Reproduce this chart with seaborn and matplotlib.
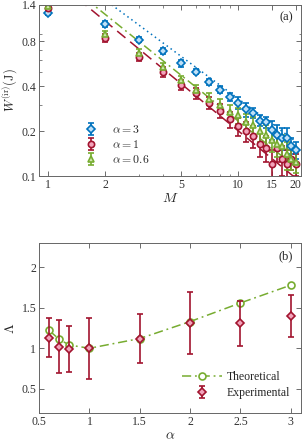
#!/usr/bin/env python3
# -*- coding: utf-8 -*-

import numpy as np
import pandas as pd
import matplotlib
matplotlib.use("Agg")
import matplotlib.pyplot as plt
import matplotlib.ticker as mticker
import seaborn as sns

# ---- panel (a) data ----
M = list(range(1, 21))
W_a3 = [1.23, 1.05, 0.82, 0.69, 0.57, 0.50, 0.43, 0.38, 0.34, 0.31,
        0.28, 0.265, 0.235, 0.23, 0.205, 0.19, 0.18, 0.18, 0.16, 0.15]
W_a1 = [1.33, 0.84, 0.63, 0.50, 0.41, 0.36, 0.31, 0.275, 0.24, 0.215,
        0.20, 0.185, 0.165, 0.155, 0.12, 0.155, 0.13, 0.12, 0.13, 0.12]
W_a06 = [1.37, 0.89, 0.67, 0.54, 0.44, 0.38, 0.33, 0.30, 0.27, 0.255,
         0.23, 0.22, 0.20, 0.19, 0.175, 0.165, 0.16, 0.14, 0.13, 0.125]
err_a3 = [0.03, 0.05, 0.03, 0.03, 0.03, 0.02, 0.02, 0.02, 0.02, 0.03,
          0.03, 0.02, 0.02, 0.02, 0.03, 0.03, 0.03, 0.03, 0.02, 0.02]
err_a1 = [0.03, 0.05, 0.04, 0.04, 0.03, 0.03, 0.03, 0.03, 0.03, 0.03,
          0.03, 0.03, 0.03, 0.03, 0.03, 0.03, 0.03, 0.03, 0.02, 0.02]
err_a06 = [0.03, 0.04, 0.04, 0.03, 0.03, 0.03, 0.03, 0.03, 0.03, 0.03,
           0.03, 0.03, 0.03, 0.03, 0.03, 0.03, 0.03, 0.03, 0.02, 0.02]

# fitted power-law lines (end points)
fit_M = [1, 20]
fit_a3 = [2.9, 0.171]
fit_a1 = [2.25, 0.097]
fit_a06 = [2.45, 0.115]

# ---- panel (b) data ----
alpha = [0.6, 0.7, 0.8, 1.0, 1.5, 2.0, 2.5, 3.0]
lam_theo = [1.22, 1.11, 1.04, 1.00, 1.12, 1.33, 1.56, 1.78]
lam_exp = [1.13, 1.02, 0.99, 1.00, 1.12, 1.31, 1.31, 1.40]
lam_err = [0.24, 0.33, 0.28, 0.38, 0.30, 0.38, 0.28, 0.26]

BLUE, RED, GREEN = "#0072BD", "#A2142F", "#77AC30"
BLUE_F, RED_F, GREEN_F = "#bfe0f7", "#f3a3bb", "#cfe6ad"

sns.set_style("ticks")
plt.rcParams["font.family"] = ["Liberation Serif", "DejaVu Serif"]
plt.rcParams["mathtext.fontset"] = "cm"
plt.rcParams["font.size"] = 8.5
plt.rcParams["axes.edgecolor"] = "#666666"
plt.rcParams["axes.linewidth"] = 0.7
plt.rcParams["xtick.color"] = "#555555"
plt.rcParams["ytick.color"] = "#555555"
plt.rcParams["xtick.labelcolor"] = "#333333"
plt.rcParams["ytick.labelcolor"] = "#333333"

fig = plt.figure(figsize=(3.03, 4.46), dpi=100)
ax1 = fig.add_axes([0.129, 0.605, 0.864, 0.384])
ax2 = fig.add_axes([0.129, 0.074, 0.864, 0.381])

# ---- panel (a) ----
fits = pd.DataFrame({"M": fit_M * 3,
                     "W": fit_a3 + fit_a1 + fit_a06,
                     "s": ["a3"] * 2 + ["a1"] * 2 + ["a06"] * 2})
sns.lineplot(data=fits[fits.s == "a3"], x="M", y="W", ax=ax1, color=BLUE,
             linestyle=(0, (1, 2.2)), linewidth=1.1)
sns.lineplot(data=fits[fits.s == "a1"], x="M", y="W", ax=ax1, color=RED,
             linestyle=(0, (7, 4)), linewidth=1.1)
sns.lineplot(data=fits[fits.s == "a06"], x="M", y="W", ax=ax1, color=GREEN,
             linestyle=(0, (6, 2.5, 1.2, 2.5)), linewidth=1.1)

h3 = ax1.errorbar(M, W_a3, yerr=err_a3, fmt="D", ms=4.0, mec=BLUE, mfc=BLUE_F,
                  mew=1.2, ecolor=BLUE, elinewidth=1.2, capsize=2, capthick=1.2)
h1 = ax1.errorbar(M, W_a1, yerr=err_a1, fmt="o", ms=4.5, mec=RED, mfc=RED_F,
                  mew=1.2, ecolor=RED, elinewidth=1.2, capsize=2, capthick=1.2)
h06 = ax1.errorbar(M, W_a06, yerr=err_a06, fmt="^", ms=4.8, mec=GREEN, mfc=GREEN_F,
                   mew=1.2, ecolor=GREEN, elinewidth=1.2, capsize=2, capthick=1.2)

ax1.set_xscale("log")
ax1.set_yscale("log")
ax1.set_xlim(0.897, 21.3)
ax1.set_ylim(0.1, 1.4)
ax1.set_xticks([1, 2, 5, 10, 15, 20])
ax1.set_xticklabels(["1", "2", "5", "10", "15", "20"])
ax1.set_yticks([0.1, 0.2, 0.4, 0.8, 1.4])
ax1.set_yticklabels(["0.1", "0.2", "0.4", "0.8", "1.4"])
ax1.xaxis.set_minor_locator(mticker.LogLocator(subs=np.arange(2, 10)))
ax1.yaxis.set_minor_locator(mticker.LogLocator(subs=np.arange(2, 10)))
ax1.xaxis.set_minor_formatter(mticker.NullFormatter())
ax1.yaxis.set_minor_formatter(mticker.NullFormatter())
ax1.set_xlabel("$M$", fontsize=10, labelpad=1)
ax1.set_ylabel(r"$W^{(\mathrm{ir})}(\mathrm{J})$", fontsize=9)
ax1.yaxis.set_label_coords(-0.072, 0.5)
ax1.text(0.97, 0.93, "(a)", transform=ax1.transAxes, ha="right", va="center",
         fontsize=9)
ax1.legend([h3, h1, h06], [r"$\alpha = 3$", r"$\alpha = 1$", r"$\alpha = 0.6$"],
           loc="center left", bbox_to_anchor=(0.13, 0.18), frameon=False,
           handlelength=1.2, handletextpad=1.2, labelspacing=0.25, fontsize=8.5)

# ---- panel (b) ----
theo = pd.DataFrame({"alpha": alpha, "lam": lam_theo})
sns.lineplot(data=theo, x="alpha", y="lam", ax=ax2, color=GREEN,
             linestyle=(0, (6, 2.5, 1.2, 2.5)), linewidth=1.1,
             marker="o", markersize=5, markerfacecolor="white",
             markeredgecolor=GREEN, markeredgewidth=1.2, label="Theoretical")
ax2.errorbar(alpha, lam_exp, yerr=lam_err, fmt="D", ms=4.0, mec=RED, mfc=RED_F,
             mew=1.2, ecolor=RED, elinewidth=1.2, capsize=2, capthick=1.2,
             label="Experimental")

ax2.set_xlim(0.5, 3.1)
ax2.set_ylim(0.2, 2.3)
ax2.set_xticks([0.5, 1, 1.5, 2, 2.5, 3])
ax2.set_xticklabels(["0.5", "1", "1.5", "2", "2.5", "3"])
ax2.set_yticks([0.5, 1, 1.5, 2])
ax2.set_yticklabels(["0.5", "1", "1.5", "2"])
ax2.set_xlabel(r"$\alpha$", fontsize=10, labelpad=1)
ax2.set_ylabel(r"$\Lambda$", fontsize=10)
ax2.yaxis.set_label_coords(-0.085, 0.5)
ax2.text(0.97, 0.92, "(b)", transform=ax2.transAxes, ha="right", va="center",
         fontsize=9)
ax2.legend(loc="lower right", bbox_to_anchor=(1.0, 0.02), frameon=False,
           handlelength=3.4, handletextpad=0.4, labelspacing=0.3, fontsize=8.5)

for ax in (ax1, ax2):
    ax.tick_params(which="both", direction="in", top=True, right=True)
    ax.tick_params(which="major", length=3.5, width=0.6, pad=2)
    ax.tick_params(which="minor", length=1.8, width=0.5)
    for s in ax.spines.values():
        s.set_visible(True)

fig.savefig("out.png", dpi=100)
